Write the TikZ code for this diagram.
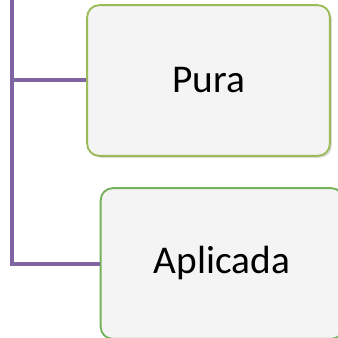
\documentclass[tikz,border=0pt]{standalone}
\usepackage{fontspec}
\setmainfont{Carlito}
\usetikzlibrary{positioning,shadows}
\definecolor{branchpurple}{HTML}{8064A2}
\definecolor{leafgreen}{HTML}{9BBB59}
\definecolor{leafgreenb}{HTML}{74B25A}
\definecolor{leaffill}{HTML}{F4F4F4}
\tikzset{
    leaf/.style={draw=leafgreen, line width=1.4pt, fill=leaffill, rounded corners=9pt,
        minimum width=182pt, minimum height=113pt, inner sep=0pt, font=\fontsize{29.5}{35}\selectfont,
        drop shadow={shadow xshift=1.5pt, shadow yshift=-1.5pt, opacity=0.25, fill=black!60}},
    branch/.style={draw=branchpurple, line width=3pt}
}

\begin{document}
\begin{tikzpicture}[x=0.75pt, y=-0.75pt]
    \useasboundingbox (0,0) rectangle (338,338);
    % Trunk
    \coordinate (trunk) at (11.5,-5);
    % Leaves
    \node[leaf] (pura) at (208.5,80.5) {Pura};
    \node[leaf, draw=leafgreenb] (aplicada) at (222,263.5) {Aplicada};
    % Branches
    \draw[branch] (trunk) |- (aplicada.west);
    \draw[branch] (pura.west) -- (pura.west -| trunk);
\end{tikzpicture}
\end{document}
